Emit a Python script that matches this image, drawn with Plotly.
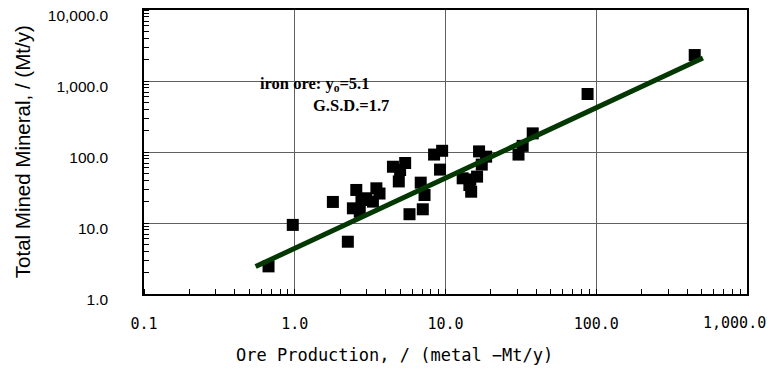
import math
import plotly.graph_objects as go

# Iron ore: metal production vs. total mined mineral (Mt/y)
ore_production = [0.67, 0.97, 1.79, 2.25, 2.56, 2.43, 2.70, 2.77, 2.98, 3.30,
                  3.48, 3.65, 4.90, 4.48, 5.00, 5.40, 5.77, 6.85, 7.26, 7.07,
                  8.40, 9.50, 9.20, 13.0, 14.4, 14.8, 16.2, 16.7, 17.4, 14.6,
                  18.6, 30.5, 32.5, 37.9, 87.6, 450.0]
total_mined = [2.45, 9.4, 19.8, 5.45, 29.2, 16.1, 14.4, 21.1, 22.3, 20.0,
               30.8, 26.0, 38.5, 62.0, 55.7, 70.0, 13.3, 37.0, 24.8, 15.6,
               92.0, 104.0, 56.5, 42.6, 34.3, 27.6, 45.0, 102.0, 66.5, 41.0,
               86.0, 92.0, 122.0, 183.0, 656.0, 2320.0]

# Fitted trend line y = a * x^b drawn across the data range
fit_a = 4.4
fit_b = 0.99
fit_x = [0.55, 510.0]
fit_y = [fit_a * x ** fit_b for x in fit_x]

x_tickvals = [0.1, 1, 10, 100, 1000]
x_ticktext = ["0.1", "1.0", "10.0", "100.0", "1,000.0"]
y_tickvals = [1, 10, 100, 1000, 10000]
y_ticktext = ["1.0", "10.0", "100.0", "1,000.0", "10,000.0"]

x_tick_font = dict(family="DejaVu Sans Mono", size=15, color="black")

fig = go.Figure()
fig.add_trace(go.Scatter(
    x=ore_production, y=total_mined, mode="markers",
    marker=dict(symbol="square", size=12, color="black", line=dict(width=0)),
    showlegend=False))
fig.add_trace(go.Scatter(
    x=fit_x, y=fit_y, mode="lines",
    line=dict(color="#033803", width=5), showlegend=False))

axis_common = dict(
    type="log", showline=True, linecolor="black", linewidth=1.5, mirror=True,
    showgrid=True, gridcolor="#606060", gridwidth=1, zeroline=False,
    ticks="outside", tickcolor="rgba(0,0,0,0)",
    minor=dict(ticks="inside", ticklen=5, tickcolor="black", tickwidth=1,
               dtick="D1", showgrid=False),
)

# The last x label sits flush with the right page edge, so it is placed
# separately, right-aligned, instead of centred on its tick.
fig.update_xaxes(
    **axis_common, range=[-1, 3], tickvals=x_tickvals[:-1],
    ticktext=x_ticktext[:-1], ticklen=15, tickfont=x_tick_font)
fig.add_annotation(
    text=x_ticktext[-1], xref="x", yref="paper",
    x=math.log10(x_tickvals[-1]), y=0, yshift=-29,
    xanchor="right", yanchor="middle", xshift=21, showarrow=False,
    font=x_tick_font)

fig.update_yaxes(
    **axis_common, range=[0, 4], tickvals=y_tickvals, ticktext=y_ticktext,
    ticklen=31, ticklabelshift=6,
    tickfont=dict(family="Liberation Sans", size=15.5, color="black"))

fig.add_annotation(
    text="Ore Production, / (metal \u2212Mt/y)", xref="paper", yref="paper",
    x=0.416, y=-0.215, xanchor="center", yanchor="middle", showarrow=False,
    font=dict(family="DejaVu Sans Mono", size=17, color="black"))
fig.add_annotation(
    text="Total Mined Mineral, / (Mt/y)", xref="paper", yref="paper",
    x=-0.202, y=0.5, xanchor="center", yanchor="middle", showarrow=False,
    textangle=-90, font=dict(family="Liberation Sans", size=20.5, color="black"))

fig.add_annotation(
    text="<b>iron ore: y<sub>o</sub>=5.1</b>", xref="paper", yref="paper",
    x=0.189, y=0.739, xanchor="left", yanchor="middle", showarrow=False,
    font=dict(family="Liberation Serif", size=16.5, color="black"))
fig.add_annotation(
    text="<b>G.S.D.=1.7</b>", xref="paper", yref="paper",
    x=0.277, y=0.663, xanchor="left", yanchor="middle", showarrow=False,
    font=dict(family="Liberation Serif", size=16.5, color="black"))

fig.update_layout(
    width=770, height=371,
    margin=dict(l=144, r=23, t=10, b=77, autoexpand=False),
    paper_bgcolor="white", plot_bgcolor="white",
)

fig.write_html("out.html")
